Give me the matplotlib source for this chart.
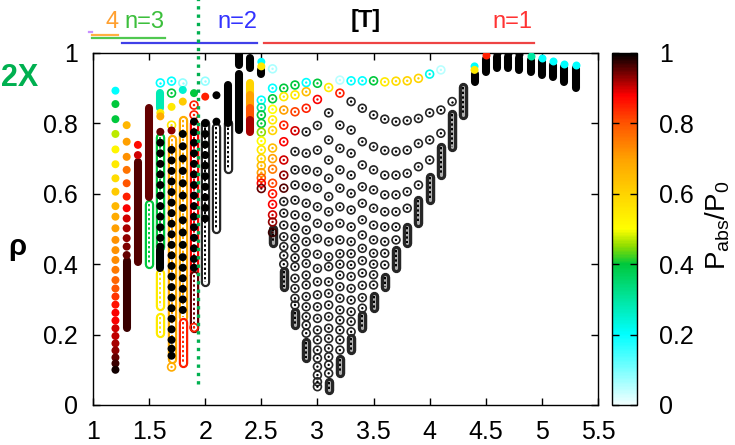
import matplotlib
matplotlib.use('Agg')
import matplotlib.pyplot as plt
from matplotlib.colors import LinearSegmentedColormap, Normalize
from matplotlib.cm import ScalarMappable

plt.rcParams['font.family'] = ['Liberation Sans', 'DejaVu Sans']
plt.rcParams['mathtext.fontset'] = 'custom'
plt.rcParams['mathtext.rm'] = 'Liberation Sans'
plt.rcParams['mathtext.it'] = 'Liberation Sans'

# --- palette for P_abs/P_0 ---
cmap = LinearSegmentedColormap.from_list('pabs', [
    (0.0, '#f2ffff'), (0.2, '#00ffff'), (0.3, '#00e6a0'), (0.4, '#00c83c'),
    (0.45, '#8cdc00'), (0.5, '#ffff00'), (0.6, '#ffd400'), (0.7, '#ffa200'),
    (0.8, '#ff5500'), (0.88, '#ff0000'), (1.0, '#000000')])

# --- filled points: one entry per column ---
FILLED_X = [1.2, 1.3, 1.4, 1.6, 1.7, 1.8, 1.9, 2.0, 2.1, 2.5, 4.4,
            4.5, 4.6, 4.7, 4.8, 4.9, 5.0, 5.1, 5.2, 5.3]
FILLED_RHO = [
    [0.893, 0.855, 0.812, 0.770, 0.726, 0.684, 0.644, 0.606, 0.565, 0.535,
     0.502, 0.469, 0.44, 0.412, 0.384, 0.355, 0.331, 0.308, 0.285, 0.262,
     0.24, 0.218, 0.196, 0.175, 0.155, 0.135, 0.118, 0.10],
    [0.795, 0.748, 0.705, 0.668, 0.630, 0.592, 0.559, 0.530, 0.502, 0.474, 0.45, 0.426],
    [0.739, 0.71],
    [0.83, 0.82, 0.776, 0.745, 0.715, 0.685, 0.655, 0.625, 0.595, 0.565,
     0.535, 0.505, 0.475, 0.45],
    [0.847, 0.78, 0.725, 0.695, 0.665, 0.635, 0.605, 0.575, 0.545, 0.515,
     0.485, 0.455, 0.425, 0.395, 0.365, 0.335, 0.305, 0.275, 0.245, 0.215,
     0.185, 0.16, 0.14],
    [0.895, 0.862, 0.77, 0.735, 0.70, 0.665, 0.63, 0.595, 0.56, 0.525, 0.49,
     0.455, 0.42, 0.39, 0.36, 0.33, 0.30, 0.27],
    [0.886, 0.805, 0.775, 0.745, 0.715, 0.685, 0.655, 0.625, 0.595, 0.565,
     0.535, 0.505, 0.475, 0.445, 0.415, 0.39],
    [0.876, 0.80, 0.77, 0.74, 0.71, 0.68, 0.65, 0.62, 0.59, 0.56, 0.53],
    [0.88, 0.805],
    [0.975, 0.962],
    [0.962, 0.952],
    [0.994], [1.0], [1.0], [0.997], [0.991], [0.986], [0.977], [0.97], [0.966],
]
# colours of the first points of each column, the rest are black (1.0)
FILLED_C = [
    [0.2, 0.4, 0.4, 0.47, 0.52, 0.55, 0.58, 0.62, 0.66, 0.68, 0.7, 0.72, 0.72,
     0.73, 0.75, 0.78, 0.8, 0.83, 0.86, 0.88, 0.88, 0.9, 0.91, 0.92, 0.93,
     0.95, 0.97, 0.99],
    [0.66, 0.7, 0.72, 0.76, 0.8, 0.85, 0.88, 0.9, 0.92, 0.93, 0.94, 0.95],
    [0.87, 0.9],
    [0.55, 0.68, 0.95],
    [0.55, 0.93],
    [0.25, 0.62],
    [0.4],
    [0.85],
    [],
    [0.2, 0.55],
    [0.2, 0.55],
    [0.85], [1.0], [1.0], [1.0], [0.3], [0.2], [0.2], [0.2], [0.2],
]

# --- hollow (circle + dot) points ---
HOLLOW_X = [1.6, 1.7, 1.8, 1.9, 2.0, 2.5, 2.6, 2.7, 2.8, 2.9, 3.0, 3.1, 3.2,
            3.3, 3.4, 3.5, 3.6, 3.7, 3.8, 3.9, 4.0, 4.1, 4.2]
HOLLOW_RHO = [
    [0.915],
    [0.92, 0.886, 0.795, 0.108],
    [0.915],
    [0.852, 0.824, 0.22],
    [0.92],
    [0.866, 0.845, 0.824, 0.80, 0.775, 0.75, 0.725, 0.70, 0.68, 0.66, 0.645, 0.63, 0.615],
    [0.955, 0.90, 0.87, 0.84, 0.81, 0.78, 0.73, 0.70, 0.67, 0.63, 0.60, 0.57, 0.54, 0.52, 0.49],
    [0.90, 0.876, 0.838, 0.795, 0.748, 0.696, 0.653, 0.616, 0.578, 0.545,
     0.511, 0.478, 0.45, 0.425, 0.40],
    [0.909, 0.881, 0.833, 0.779, 0.72, 0.668, 0.625, 0.582, 0.54, 0.506,
     0.474, 0.446, 0.418, 0.393, 0.36, 0.331, 0.303, 0.284],
    [0.916, 0.89, 0.843, 0.776, 0.715, 0.668, 0.62, 0.573, 0.535, 0.497,
     0.464, 0.431, 0.402, 0.369, 0.341, 0.308, 0.279, 0.251, 0.227, 0.204],
    [0.914, 0.868, 0.794, 0.724, 0.663, 0.616, 0.563, 0.516, 0.473, 0.428,
     0.388, 0.35, 0.313, 0.279, 0.246, 0.213, 0.185, 0.156, 0.133, 0.109,
     0.085, 0.066, 0.052],
    [0.902, 0.83, 0.753, 0.696, 0.644, 0.592, 0.549, 0.506, 0.464, 0.421,
     0.393, 0.35, 0.317, 0.284, 0.251, 0.218, 0.189, 0.161, 0.137, 0.114, 0.09],
    [0.923, 0.886, 0.795, 0.729, 0.668, 0.616, 0.563, 0.516, 0.469, 0.43,
     0.40, 0.369, 0.336, 0.303, 0.27, 0.241, 0.213, 0.185, 0.156],
    [0.921, 0.862, 0.781, 0.715, 0.653, 0.601, 0.554, 0.506, 0.464, 0.43,
     0.398, 0.365, 0.331, 0.298, 0.265, 0.237, 0.208],
    [0.921, 0.843, 0.748, 0.682, 0.62, 0.573, 0.526, 0.483, 0.445, 0.41,
     0.375, 0.34, 0.305, 0.275],
    [0.921, 0.824, 0.734, 0.668, 0.611, 0.559, 0.511, 0.469, 0.431, 0.40,
     0.37, 0.341],
    [0.918, 0.812, 0.723, 0.653, 0.597, 0.549, 0.506, 0.464, 0.431, 0.398],
    [0.92, 0.805, 0.72, 0.653, 0.597, 0.549, 0.506, 0.469],
    [0.921, 0.808, 0.724, 0.658, 0.606, 0.559],
    [0.928, 0.814, 0.743, 0.677, 0.625],
    [0.94, 0.83, 0.753, 0.696],
    [0.952, 0.838, 0.772],
    [0.862],
]
HOLLOW_C = [
    [0.2],
    [0.2, 0.4, 0.55, 0.68],
    [0.08],
    [0.85, 0.85, 0.85],
    [0.08],
    [0.2, 0.3, 0.4, 0.4, 0.45, 0.5, 0.55, 0.6, 0.65, 0.7, 0.8, 0.88, 0.95],
    [0.06, 0.2, 0.4, 0.5, 0.55, 0.6, 0.65, 0.7, 0.75, 0.82, 0.86, 0.88, 0.9, 0.93, 0.97],
    [0.4, 0.55, 0.7, 0.85, 0.88, 0.9, 0.93, 0.96],
    [0.4, 0.55, 0.82, 0.9],
    [0.2, 0.65, 0.85],
    [0.4, 0.88],
    [0.55],
    [0.05, 0.85],
    [0.2],
    [0.2],
    [0.4],
    [0.55],
    [0.58],
    [0.6],
    [0.6],
    [0.22],
    [0.05],
    [],
]

# --- dense runs of points (pills): f = filled, h = hollow, d = dense hollow ---
PILL_X = [1.3, 1.4, 1.5, 1.6, 1.6, 2.2, 2.3, 2.3, 2.4, 2.4, 2.4, 2.4, 2.4, 2.5,
          4.4, 4.5, 4.6, 4.7, 4.8, 4.9, 5.0, 5.1, 5.2, 5.3,
          1.5, 1.6, 1.6, 1.6, 1.7, 1.8, 1.8, 1.9, 1.9, 2.0, 2.1, 2.2,
          2.6, 2.7, 2.8, 2.9, 3.1, 3.2, 3.3, 3.4, 3.5, 3.6, 3.7, 3.8, 3.9,
          4.0, 4.1, 4.2, 4.3]
PILL_TOP = [0.41, 0.69, 0.843, 0.886, 0.44, 0.91, 1.0, 0.94, 0.985, 0.915, 0.88, 0.845, 0.81, 0.952,
            0.94, 0.984, 0.99, 0.99, 0.987, 0.981, 0.976, 0.967, 0.96, 0.956,
            0.57, 0.76, 0.375, 0.25, 0.755, 0.81, 0.236, 0.80, 0.37, 0.80, 0.79, 0.80,
            0.50, 0.38, 0.265, 0.18, 0.066, 0.13, 0.19, 0.255, 0.31, 0.365, 0.44, 0.506, 0.582,
            0.648, 0.734, 0.828, 0.904]
PILL_BOT = [0.22, 0.405, 0.59, 0.845, 0.39, 0.80, 0.966, 0.78, 0.957, 0.88, 0.845, 0.81, 0.776, 0.94,
            0.918, 0.946, 0.957, 0.957, 0.952, 0.946, 0.9375, 0.932, 0.918, 0.90,
            0.40, 0.45, 0.28, 0.205, 0.13, 0.25, 0.118, 0.37, 0.22, 0.35, 0.50, 0.67,
            0.46, 0.335, 0.227, 0.133, 0.043, 0.09, 0.155, 0.218, 0.275, 0.335, 0.39, 0.459, 0.516,
            0.582, 0.653, 0.734, 0.824]
PILL_C = [0.97, 0.96, 0.95, 0.28, 1.0, 1.0, 1.0, 1.0, 1.0, 0.6, 0.7, 0.8, 0.92, 1.0,
          1.0, 1.0, 1.0, 1.0, 1.0, 1.0, 1.0, 1.0, 1.0, 1.0,
          0.4, 0.4, 0.55, 0.55, 0.68, 0.68, 0.85, 0.88, 0.95, 1.0, 1.0, 1.0,
          1.0, 1.0, 1.0, 1.0, 1.0, 1.0, 1.0, 1.0, 1.0, 1.0, 1.0, 1.0, 1.0,
          1.0, 1.0, 1.0, 1.0]
PILL_KIND = ['f'] * 24 + ['h'] * 12 + ['d'] * 17

X_TICKS = [1, 1.5, 2, 2.5, 3, 3.5, 4, 4.5, 5, 5.5]
X_LABELS = ['1', '1.5', '2', '2.5', '3', '3.5', '4', '4.5', '5', '5.5']
Y_TICKS = [0, 0.2, 0.4, 0.6, 0.8, 1]
Y_LABELS = ['0', '0.2', '0.4', '0.6', '0.8', '1']

fig = plt.figure(figsize=(7.35, 4.45), dpi=100)
ax = fig.add_axes([93 / 735, 40 / 445, 505 / 735, 352 / 445])
cax = fig.add_axes([612 / 735, 40 / 445, 25 / 735, 352 / 445])


def full_colours(rho, cols):
    return list(cols) + [1.0] * (len(rho) - len(cols))


def ring_colour(v):
    # black rings render dark grey in the original
    return '#262626' if v >= 0.999 else cmap(v)


# pills
for x, t, b, c, k in zip(PILL_X, PILL_TOP, PILL_BOT, PILL_C, PILL_KIND):
    col = cmap(c)
    if k == 'f':
        ax.plot([x, x], [t, b], color=col, lw=5.8, solid_capstyle='round', zorder=4)
    else:
        ax.plot([x, x], [t, b], color=ring_colour(c), lw=6.8,
                solid_capstyle='round', zorder=2)
        inner = 'white' if k == 'h' else '#b0b0b0'
        ax.plot([x, x], [t, b], color=inner, lw=3.6 if k == 'h' else 2.2,
                solid_capstyle='round', zorder=2)
        ax.plot([x, x], [t, b], color=col, lw=1.4, ls=(0, (1.2, 1.2)), zorder=2)

# hollow points
for x, rho, cols in zip(HOLLOW_X, HOLLOW_RHO, HOLLOW_C):
    vals = full_colours(rho, cols)
    ax.scatter([x] * len(rho), rho, s=32, facecolors='none',
               edgecolors=[ring_colour(v) for v in vals],
               linewidths=1.2, zorder=3)
    ax.scatter([x] * len(rho), rho, s=3, c=[cmap(v) for v in vals],
               linewidths=0, zorder=3)

# filled points
for x, rho, cols in zip(FILLED_X, FILLED_RHO, FILLED_C):
    cc = [cmap(v) for v in full_colours(rho, cols)]
    ax.scatter([x] * len(rho), rho, s=33, c=cc, linewidths=0, zorder=5)

# green dotted separator
ax.plot([1.94, 1.94], [0.06, 1.16], color='#00b050', lw=2.4,
        ls=(0, (1, 1.5)), dash_capstyle='butt', zorder=6, clip_on=False)

ax.set_xlim(1, 5.5)
ax.set_ylim(0, 1)
ax.set_xticks(X_TICKS)
ax.set_xticklabels(X_LABELS)
ax.set_yticks(Y_TICKS)
ax.set_yticklabels(Y_LABELS)
ax.tick_params(direction='in', top=True, right=True, length=5, width=1,
               labelsize=18, pad=11)
for sp in ax.spines.values():
    sp.set_linewidth(1)

# regime labels above the frame
top_lines = [((0.965, 0.99), 1.060, '#c890ff'),
             ((0.99, 1.225), 1.051, '#ffb040'),
             ((0.99, 1.64), 1.043, '#50c850'),
             ((1.26, 2.46), 1.029, '#4040e8'),
             ((2.52, 4.93), 1.029, '#ee4444')]
for (x0, x1), yy, col in top_lines:
    ax.plot([x0, x1], [yy, yy], color=col, lw=1.6, clip_on=False)
ax.text(1.17, 1.088, '4', color='#ffa030', fontsize=17, ha='center', va='center')
ax.text(1.46, 1.088, 'n=3', color='#3cbf3c', fontsize=17, ha='center', va='center')
ax.text(2.29, 1.088, 'n=2', color='#3333ff', fontsize=17, ha='center', va='center')
ax.text(3.43, 1.092, '[T]', color='black', fontsize=17, fontweight='bold',
        ha='center', va='center')
ax.text(4.74, 1.088, 'n=1', color='#ff3333', fontsize=17, ha='center', va='center')

fig.text(38 / 735, 1 - 78 / 445, '2X', color='#00b050', fontsize=22,
         fontweight='bold', ha='right', va='center')
fig.text(17 / 735, 1 - 247 / 445, 'ρ', fontsize=21, fontweight='bold',
         ha='center', va='center')

# colour bar
cb = fig.colorbar(ScalarMappable(norm=Normalize(0, 1), cmap=cmap), cax=cax,
                  ticks=Y_TICKS)
cb.ax.set_yticklabels(Y_LABELS)
cax.tick_params(direction='in', left=True, right=True, length=5, width=1,
                labelsize=18, pad=16)
cb.outline.set_linewidth(1)
fig.text(703 / 735, 0.494, r'P$_{\mathrm{abs}}$/P$_0$', fontsize=20,
         rotation=90, ha='left', va='center')

fig.savefig('out.png', dpi=100)
